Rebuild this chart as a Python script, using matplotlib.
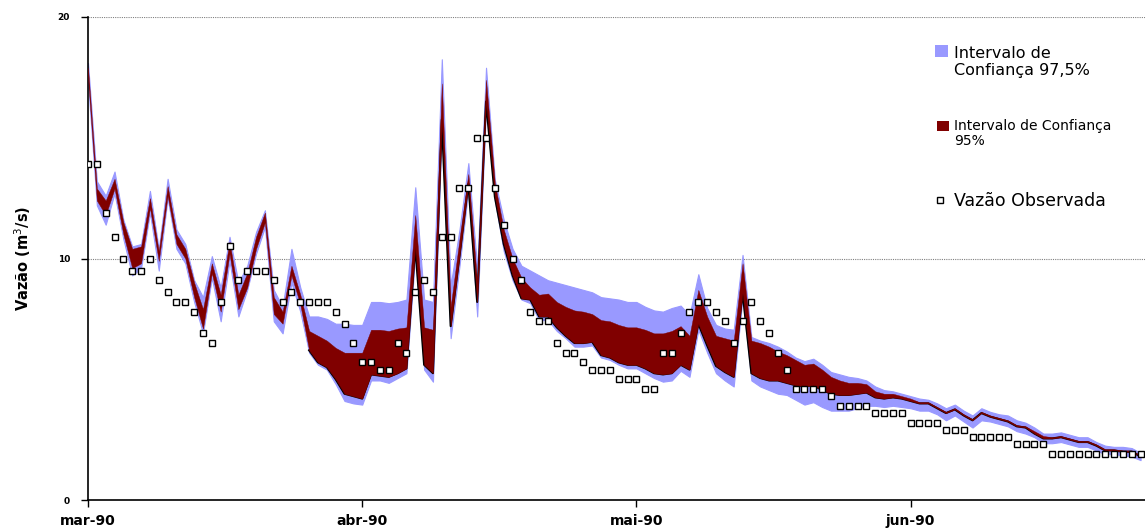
import numpy as np
import matplotlib
matplotlib.use("Agg")
import matplotlib.pyplot as plt
from matplotlib.patches import Rectangle

plt.rcParams['font.family'] = ['DejaVu Sans']

# dados diarios (1 ponto por dia, a partir de 1/mar/1990)
observada = [
    13.9, 13.9, 11.9, 10.9, 10.0, 9.5, 9.5, 10.0, 9.1, 8.6,
    8.2, 8.2, 7.8, 6.9, 6.5, 8.2, 10.5, 9.1, 9.5, 9.5,
    9.5, 9.1, 8.2, 8.6, 8.2, 8.2, 8.2, 8.2, 7.8, 7.3,
    6.5, 5.7, 5.7, 5.4, 5.4, 6.5, 6.1, 8.6, 9.1, 8.6,
    10.9, 10.9, 12.9, 12.9, 15.0, 15.0, 12.9, 11.4, 10.0, 9.1,
    7.8, 7.4, 7.4, 6.5, 6.1, 6.1, 5.7, 5.4, 5.4, 5.4,
    5.0, 5.0, 5.0, 4.6, 4.6, 6.1, 6.1, 6.9, 7.8, 8.2,
    8.2, 7.8, 7.4, 6.5, 7.4, 8.2, 7.4, 6.9, 6.1, 5.4,
    4.6, 4.6, 4.6, 4.6, 4.3, 3.9, 3.9, 3.9, 3.9, 3.6,
    3.6, 3.6, 3.6, 3.2, 3.2, 3.2, 3.2, 2.9, 2.9, 2.9,
    2.6, 2.6, 2.6, 2.6, 2.6, 2.3, 2.3, 2.3, 2.3, 1.9,
    1.9, 1.9, 1.9, 1.9, 1.9, 1.9, 1.9, 1.9, 1.9, 1.9,
]

sup_975 = [
    18.1, 13.2, 12.6, 13.6, 11.6, 10.5, 10.6, 12.8, 10.4, 13.3,
    11.2, 10.6, 9.1, 8.4, 10.1, 8.8, 10.9, 9.0, 9.7, 11.1,
    12.0, 8.7, 8.0, 10.4, 8.8, 7.6, 7.6, 7.5, 7.3, 7.3,
    7.25, 7.25, 8.2, 8.2, 8.15, 8.2, 8.3, 12.95, 8.3, 8.2,
    18.25, 8.9, 11.2, 13.95, 9.6, 17.9, 13.25, 11.6, 10.4, 9.7,
    9.5, 9.3, 9.1, 9.0, 8.9, 8.8, 8.7, 8.6, 8.4, 8.35,
    8.3, 8.2, 8.2, 8.0, 7.85, 7.8, 7.95, 8.05, 7.65, 9.35,
    7.95, 7.25, 7.1, 7.05, 10.15, 6.75, 6.6, 6.5, 6.35, 6.15,
    5.9, 5.75, 5.85, 5.6, 5.3, 5.2, 5.1, 5.05, 4.95, 4.7,
    4.55, 4.5, 4.4, 4.3, 4.2, 4.15, 4.0, 3.8, 3.95, 3.7,
    3.5, 3.8, 3.65, 3.55, 3.5, 3.3, 3.2, 3.0, 2.75, 2.75,
    2.8, 2.7, 2.6, 2.6, 2.4, 2.25, 2.2, 2.2, 2.15, 1.95,
]

sup_95 = [
    17.9, 12.9, 12.4, 13.3, 11.5, 10.4, 10.5, 12.5, 10.3, 13.0,
    11.0, 10.4, 9.0, 7.9, 9.8, 8.5, 10.7, 8.5, 9.4, 10.9,
    11.9, 8.4, 7.8, 9.7, 8.5, 7.0, 6.8, 6.6, 6.3, 6.1,
    6.1, 6.1, 7.05, 7.05, 7.0, 7.1, 7.15, 11.8, 7.15, 7.05,
    17.25, 8.0, 10.8, 13.5, 9.0, 17.4, 13.1, 11.2, 10.0, 9.2,
    8.8, 8.5, 8.55, 8.2, 8.0, 7.85, 7.8, 7.7, 7.45, 7.4,
    7.25, 7.15, 7.15, 7.05, 6.9, 6.9, 7.0, 7.2, 6.8, 8.7,
    7.6, 6.8, 6.7, 6.6, 9.8, 6.6, 6.5, 6.35, 6.15, 6.0,
    5.8, 5.6, 5.65, 5.4, 5.1, 4.95, 4.85, 4.85, 4.8, 4.5,
    4.4, 4.4, 4.3, 4.2, 4.05, 4.05, 3.85, 3.65, 3.8, 3.55,
    3.35, 3.65, 3.5, 3.4, 3.3, 3.1, 3.05, 2.85, 2.65, 2.6,
    2.65, 2.55, 2.45, 2.45, 2.3, 2.1, 2.1, 2.05, 2.05, 1.85,
]

inf_95 = [
    17.5, 12.4, 11.8, 12.9, 11.0, 9.6, 9.8, 12.1, 9.9, 12.6,
    10.6, 10.0, 8.4, 7.1, 9.4, 7.8, 10.2, 7.9, 8.8, 10.4,
    11.5, 7.7, 7.3, 9.3, 8.1, 6.2, 5.7, 5.5, 5.0, 4.4,
    4.3, 4.2, 5.2, 5.15, 5.1, 5.25, 5.45, 10.5, 5.6, 5.25,
    15.75, 7.2, 10.1, 13.1, 8.2, 16.5, 12.55, 10.6, 9.3, 8.35,
    8.3, 7.6, 7.6, 7.15, 6.8, 6.5, 6.5, 6.55, 6.0, 5.9,
    5.7, 5.6, 5.6, 5.45, 5.25, 5.2, 5.25, 5.6, 5.4, 7.3,
    6.4, 5.55, 5.3, 5.1, 8.6, 5.25, 5.05, 4.95, 4.95, 4.85,
    4.75, 4.7, 4.75, 4.55, 4.4, 4.35, 4.35, 4.4, 4.45, 4.25,
    4.2, 4.25, 4.2, 4.1, 4.0, 4.0, 3.8, 3.6, 3.75, 3.5,
    3.3, 3.6, 3.45, 3.35, 3.25, 3.05, 3.0, 2.75, 2.55, 2.55,
    2.6, 2.5, 2.4, 2.4, 2.25, 2.05, 2.05, 2.0, 2.0, 1.8,
]

inf_975 = [
    17.3, 12.2, 11.4, 12.7, 10.8, 9.3, 9.6, 11.9, 9.5, 12.5,
    10.4, 9.8, 8.2, 6.9, 9.2, 7.4, 9.9, 7.6, 8.7, 10.2,
    11.3, 7.4, 6.9, 9.0, 7.8, 6.1, 5.6, 5.4, 4.8, 4.1,
    4.0, 3.95, 4.95, 4.95, 4.85, 5.05, 5.25, 10.2, 5.4, 4.9,
    15.4, 6.7, 9.7, 12.85, 7.6, 16.3, 12.4, 10.3, 9.1, 8.3,
    8.15, 7.45, 7.45, 7.0, 6.7, 6.35, 6.35, 6.4, 5.9, 5.8,
    5.6, 5.45, 5.45, 5.25, 5.05, 4.9, 4.95, 5.35, 5.1, 7.05,
    6.1, 5.25, 4.95, 4.7, 8.4, 4.95, 4.7, 4.55, 4.4, 4.35,
    4.15, 3.95, 4.05, 3.85, 3.7, 3.7, 3.7, 3.8, 3.9, 3.9,
    3.85, 3.9, 3.85, 3.8, 3.7, 3.7, 3.55, 3.3, 3.5, 3.25,
    3.0, 3.3, 3.25, 3.15, 3.05, 2.85, 2.75, 2.6, 2.35, 2.35,
    2.4, 2.3, 2.2, 2.2, 2.05, 1.9, 1.9, 1.85, 1.8, 1.65,
]

meses = ['mar-90', 'abr-90', 'mai-90', 'jun-90']
pos_meses = [0, 31, 62, 93]

AZUL = '#9999ff'
VINHO = '#800000'

W, H = 1145, 528
def fx(px):
    return px / W
def fy(py):
    return 1 - py / H

x = np.arange(len(observada))

fig = plt.figure(figsize=(W / 100, H / 100), dpi=100)
ax = fig.add_axes([fx(88), fy(500), fx(1057), 483 / H])

ax.fill_between(x, inf_975, sup_975, color=AZUL, lw=0.8, edgecolor=AZUL, zorder=2)
# linha preta fica atras da faixa de 95%, so aparece na borda de baixo
ax.plot(x[25:], inf_95[25:], color='black', lw=1.5, zorder=2.5)
ax.fill_between(x, inf_95, sup_95, color=VINHO, lw=0.3, edgecolor=VINHO, zorder=3)
ax.plot(x, observada, ls='none', marker='s', ms=5, mfc='white', mec='black', mew=1.0, zorder=5)

ax.set_xlim(0, 119.5)
ax.set_ylim(0, 20)
ax.set_yticks([0, 10, 20])
ax.set_yticklabels(['0', '10', '20'], fontsize=6.5, fontweight='bold')
ax.set_xticks(pos_meses)
ax.set_xticklabels(meses, fontsize=10, fontweight='bold')
ax.tick_params(axis='x', direction='out', length=5, width=1, pad=5)
ax.tick_params(axis='y', direction='out', length=5, width=1, pad=8)
ax.grid(axis='y', color='#808080', ls=(0, (1, 1)), lw=0.8)
ax.set_axisbelow(True)
for s in ['top', 'right']:
    ax.spines[s].set_visible(False)
ax.spines['left'].set_linewidth(1.2)
ax.spines['bottom'].set_linewidth(1.2)

ax.set_ylabel('Vazão (m$^3$/s)', fontsize=10.5, fontweight='bold')
ax.yaxis.set_label_coords((33 - 88) / 1057, 0.5)

# legenda montada a mao (tamanhos de fonte diferentes em cada item)
fig.add_artist(Rectangle((fx(935), fy(57)), 13 / W, 12 / H, transform=fig.transFigure,
                         facecolor=AZUL, edgecolor='none'))
fig.text(fx(954), fy(53), 'Intervalo de', fontsize=11.5, va='center', ha='left')
fig.text(fx(954), fy(70), 'Confiança 97,5%', fontsize=11.5, va='center', ha='left')

fig.add_artist(Rectangle((fx(937), fy(131)), 12 / W, 10 / H, transform=fig.transFigure,
                         facecolor=VINHO, edgecolor='none'))
fig.text(fx(954), fy(126), 'Intervalo de Confiança', fontsize=10, va='center', ha='left')
fig.text(fx(954), fy(141), '95%', fontsize=10, va='center', ha='left')

fig.add_artist(plt.Line2D([fx(940)], [fy(200)], transform=fig.transFigure, ls='none',
                          marker='s', ms=5, mfc='white', mec='black', mew=1.0))
fig.text(fx(954), fy(201), 'Vazão Observada', fontsize=12.5, va='center', ha='left')

fig.savefig('out.png', dpi=100)
